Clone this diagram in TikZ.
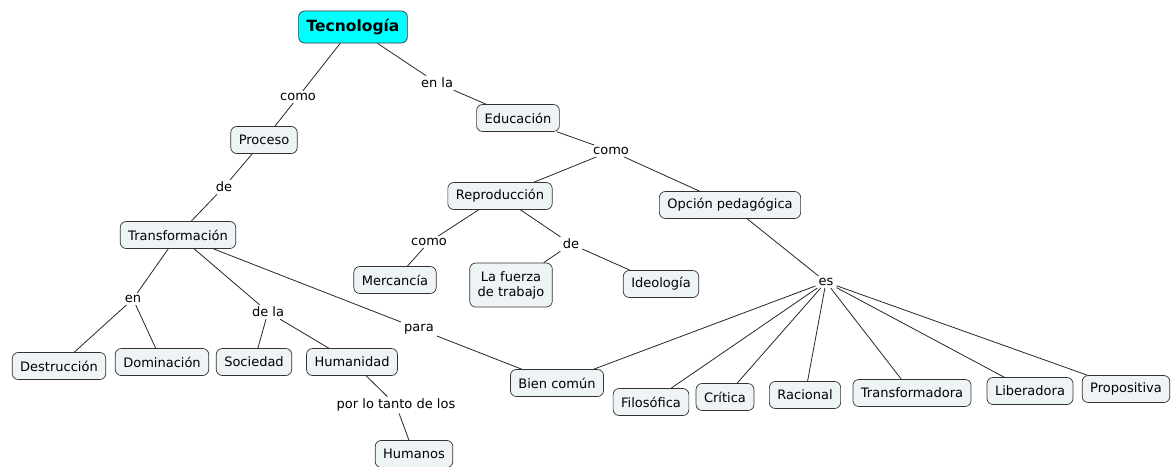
\documentclass[tikz,border=0pt]{standalone}
\usepackage{fontspec}
\setmainfont{DejaVu Sans}
\begin{document}
\begin{tikzpicture}[x=1pt,y=-1pt,
  concept/.style={draw=black!80, line width=0.7pt, rounded corners=6pt, fill=cmapfill,
    inner xsep=8pt, inner ysep=0pt, minimum height=27pt, align=center,
    font=\fontsize{13}{15}\selectfont},
  root/.style={concept, fill=rootfill, minimum height=32pt, inner xsep=8pt,
    font=\fontsize{15.5}{17}\selectfont\bfseries},
  phrase/.style={inner xsep=3pt, inner ysep=2pt, font=\fontsize{13}{15}\selectfont},
  link/.style={draw=black!85, line width=0.8pt}]
\definecolor{cmapfill}{HTML}{EEF3F6}
\definecolor{rootfill}{HTML}{00FFFF}
\useasboundingbox (0,0) rectangle (1172,466);

% concepts
\node[root] (tec) at (353,27) {Tecnología};
\node[concept] (proc) at (264,140) {Proceso};
\node[concept] (edu) at (518,118) {Educación};
\node[concept] (rep) at (500,196) {Reproducción};
\node[concept] (opc) at (730,205) {Opción pedagógica};
\node[concept] (trans) at (178,235) {Transformación};
\node[concept] (merc) at (395,280) {Mercancía};
\node[concept, minimum height=44pt] (fuerza) at (511,285) {La fuerza\\de trabajo};
\node[concept] (ideo) at (661,284) {Ideología};
\node[concept] (dest) at (59,366) {Destrucción};
\node[concept] (domi) at (162,362) {Dominación};
\node[concept] (soc) at (254,362) {Sociedad};
\node[concept] (hum) at (352,362) {Humanidad};
\node[concept] (bien) at (557,383) {Bien común};
\node[concept] (humanos) at (414,454) {Humanos};
\node[concept] (filo) at (651,402) {Filosófica};
\node[concept] (crit) at (725,397) {Crítica};
\node[concept] (rac) at (805,395) {Racional};
\node[concept] (transf) at (912,393) {Transformadora};
\node[concept] (lib) at (1030,391) {Liberadora};
\node[concept] (prop) at (1126,389) {Propositiva};

% linking phrases
\node[phrase] (p1) at (298,97) {como};
\node[phrase] (p2) at (437,83) {en la};
\node[phrase] (p3) at (611,151) {como};
\node[phrase] (p4) at (224,187) {de};
\node[phrase] (p5) at (429,242) {como};
\node[phrase] (p6) at (571,244) {de};
\node[phrase] (p7) at (133,299) {en};
\node[phrase] (p8) at (268,312) {de la};
\node[phrase] (p9) at (419,329) {para};
\node[phrase] (p10) at (826,282) {es};
\node[phrase] (p11) at (396,405) {por lo tanto de los};

\coordinate (kink) at (306,285);

% connectors
\draw[link] (tec) -- (p1) -- (proc);
\draw[link] (tec) -- (p2) -- (edu);
\draw[link] (edu) -- (p3);
\draw[link] (p3) -- (rep);
\draw[link] (p3) -- (opc);
\draw[link] (proc) -- (p4) -- (trans);
\draw[link] (rep) -- (p5) -- (merc);
\draw[link] (rep) -- (p6);
\draw[link] (p6) -- (fuerza);
\draw[link] (p6) -- (ideo);
\draw[link] (trans) -- (p7);
\draw[link] (p7) -- (dest);
\draw[link] (p7) -- (domi);
\draw[link] (trans) -- (p8);
\draw[link] (p8) -- (soc);
\draw[link] (p8) -- (hum);
\draw[link] (trans) -- (kink) -- (p9);
\draw[link] (p9) -- (bien);
\draw[link] (hum) -- (p11) -- (humanos);
\draw[link] (opc) -- (p10);
\foreach \t in {bien,filo,crit,rac,transf,lib,prop}
  \draw[link] (p10) -- (\t);
\end{tikzpicture}
\end{document}
